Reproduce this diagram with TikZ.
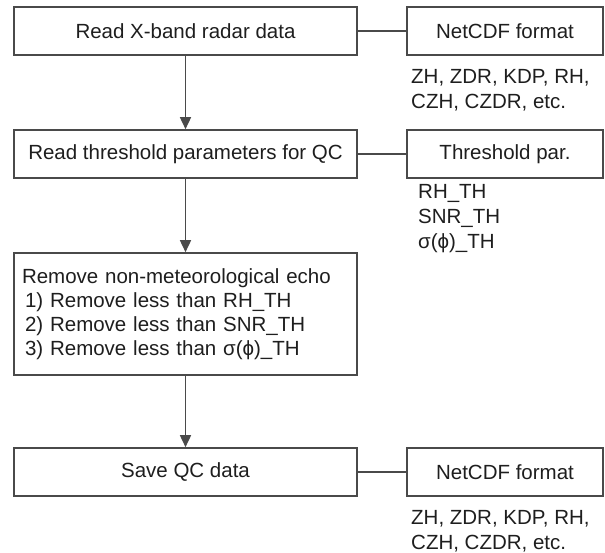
\documentclass[tikz,border=0pt]{standalone}
\usepackage{fontspec}
\setmainfont{Liberation Sans}
\usepackage{xcolor}
\usepackage{tikz}
\usetikzlibrary{positioning,arrows.meta}

\definecolor{edge}{HTML}{4A4A4A}
\definecolor{ink}{HTML}{1E1E1E}

\begin{document}
\begin{tikzpicture}[x=1pt, y=-1pt,
		stepbox/.style={draw=edge, line width=1.6pt, text=ink, inner sep=0pt, minimum width=343pt, minimum height=48pt, font=\fontsize{20.5}{24}\selectfont},
		filebox/.style={stepbox, minimum width=196pt},
		varlist/.style={text=ink, inner sep=0pt, align=left, anchor=north west, font=\fontsize{20.5}{25}\selectfont},
		flow/.style={draw=edge, line width=1.6pt, -{Triangle[length=12pt, width=11pt]}},
		link/.style={draw=edge, line width=1.6pt}]
						\useasboundingbox (0,0) rectangle (605,553);

						\node[stepbox] (read) at (185.5,31) {Read X-band radar data};
						\node[filebox] (nc1) at (505,31) {NetCDF format};
						\node[varlist] (vars1) at (411,69) {ZH, ZDR, KDP, RH,\\CZH, CZDR, etc.};

						\node[stepbox] (thres) at (185.5,154) {Read threshold parameters for QC};
						\node[filebox] (par) at (505,154) {Threshold par.};
						\node[varlist] (thlist) at (418,184) {RH\_TH\\SNR\_TH\\σ(ϕ)\_TH};

						\node[stepbox, minimum height=122pt, align=left, text width=327pt, font=\fontsize{20.5}{24}\selectfont] (remove) at (185.5,314)
							{Remove non-meteorological echo\\
							\hspace*{3pt}1) Remove less than RH\_TH\\
							\hspace*{3pt}2) Remove less than SNR\_TH\\
							\hspace*{3pt}3) Remove less than σ(ϕ)\_TH};

						\node[stepbox] (save) at (185.5,472) {Save QC data};
						\node[filebox] (nc2) at (505,472) {NetCDF format};
						\node[varlist] (vars2) at (411,510) {ZH, ZDR, KDP, RH,\\CZH, CZDR, etc.};

						\draw[flow] (read) -- (thres);
						\draw[flow] (thres) -- (remove);
						\draw[flow] (remove) -- (save);
						\draw[link] (read) -- (nc1);
						\draw[link] (thres) -- (par);
						\draw[link] (save) -- (nc2);

					\end{tikzpicture}
\end{document}
